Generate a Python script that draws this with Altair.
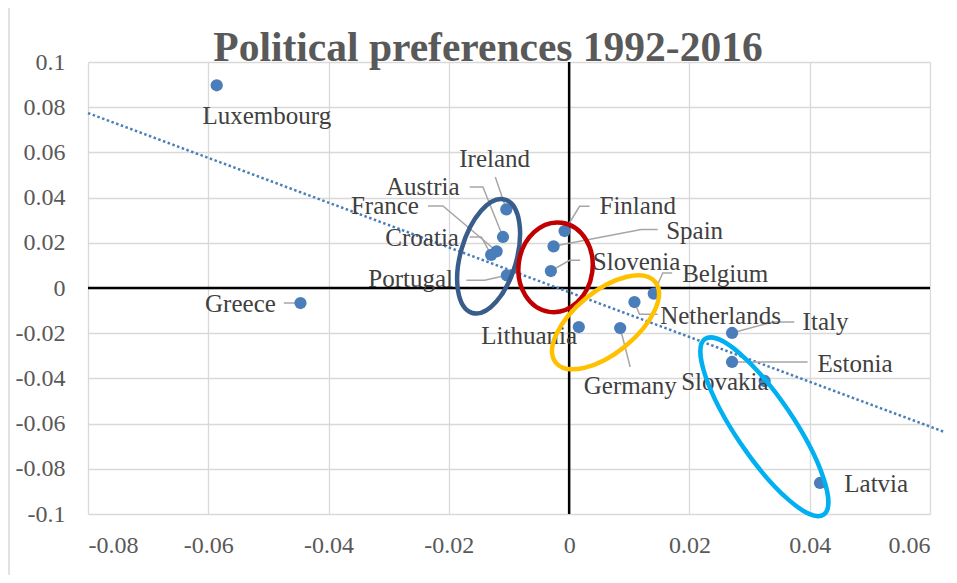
import altair as alt
import pandas as pd

# ---------------- data ----------------
countries = ["Luxembourg", "Greece", "Ireland", "Austria", "France", "Croatia",
             "Portugal", "Finland", "Spain", "Slovenia", "Belgium", "Netherlands",
             "Lithuania", "Germany", "Italy", "Estonia", "Slovakia", "Latvia"]
x_vals = [-0.0586, -0.04467, -0.01045, -0.0110, -0.01206, -0.01297,
          -0.01035, -0.00076, -0.00259, -0.00304, 0.01407, 0.01086,
          0.00161, 0.00849, 0.02709, 0.02709, 0.03251, 0.04171]
y_vals = [0.0897, -0.00664, 0.03482, 0.02257, 0.01624, 0.01469,
          0.00562, 0.02522, 0.01845, 0.00752, -0.00248, -0.0062,
          -0.01726, -0.0177, -0.01991, -0.03274, -0.04115, -0.08628]

# data-label anchors (baseline point) and alignment
label_x = [-0.05027, -0.04877, -0.01239, -0.01821, -0.02497, -0.01832,
           -0.01932, 0.00505, 0.01613, 0.00394, 0.01879, 0.01513,
           -0.0146, 0.00244, 0.03882, 0.04131, 0.01862, 0.04575]
label_y = [0.07243, -0.01062, 0.05354, 0.04102, 0.03261, 0.01845,
           0.00044, 0.03261, 0.02186, 0.00814, 0.00265, -0.01606,
           -0.02491, -0.04673, -0.01841, -0.03717, -0.04527, -0.09027]
label_align = ["center", "right", "center", "right", "right", "right",
               "right", "left", "left", "left", "left", "left",
               "left", "left", "left", "left", "left", "left"]

# leader-line elbow points (from the label side towards the marker)
leader_country = ["Greece", "Ireland", "Austria", "Austria", "France", "France",
                  "Croatia", "Croatia", "Portugal", "Portugal", "Finland", "Finland",
                  "Spain", "Spain", "Slovenia", "Slovenia", "Belgium", "Belgium",
                  "Netherlands", "Netherlands", "Germany", "Italy", "Italy", "Estonia"]
leader_x = [-0.04744, -0.01228, -0.01654, -0.01434, -0.02347, -0.02098,
            -0.01654, -0.0146, -0.01709, -0.01405, 0.00339, 0.00173,
            0.01473, 0.01198, 0.00184, 0.00007, 0.01713, 0.01556,
            0.01473, 0.01169, 0.01015, 0.03744, 0.03384, 0.03965]
leader_y = [-0.00664, 0.04912, 0.04469, 0.04469, 0.03628, 0.03628,
            0.02257, 0.02257, 0.00341, 0.00341, 0.03615, 0.03615,
            0.02584, 0.02584, 0.01226, 0.01226, 0.00664, 0.00664,
            -0.01164, -0.01164, -0.03496, -0.01504, -0.01504, -0.03274]

# linear trendline end points as drawn
trend_x = [-0.08, 0.0624]
trend_y = [0.0774, -0.0637]

# axis ticks
x_ticks = [-0.08, -0.06, -0.04, -0.02, 0, 0.02, 0.04, 0.06]
y_ticks = [-0.1, -0.08, -0.06, -0.04, -0.02, 0, 0.02, 0.04, 0.06, 0.08, 0.1]

# highlight ellipses: centre (data units), semi-axes (px), tilt (deg), colour
ell_x = [-0.01339, -0.00226, 0.00605, 0.03246]
ell_y = [0.01403, 0.00916, -0.01518, -0.06142]
ell_a = [59, 45, 64, 106]
ell_b = [28, 37, 31, 29]
ell_angle = [16, 8, 51, 326]
ell_color = ["#385D8A", "#C00000", "#FFC000", "#00B0F0"]

# ---------------- tables ----------------
pts = pd.DataFrame({"country": countries, "x": x_vals, "y": y_vals,
                    "lx": label_x, "ly": label_y, "align": label_align})

rows = []
order = {}
for c, lx, ly in zip(leader_country, leader_x, leader_y):
    order[c] = order.get(c, 0) + 1
    rows.append({"country": c, "x": lx, "y": ly, "o": order[c]})
for c in order:
    i = countries.index(c)
    rows.append({"country": c, "x": x_vals[i], "y": y_vals[i], "o": order[c] + 1})
leaders = pd.DataFrame(rows)

trend = pd.DataFrame({"x": trend_x, "y": trend_y})
zero_v = pd.DataFrame({"x": [0, 0], "y": [y_ticks[0], y_ticks[-1]]})
zero_h = pd.DataFrame({"x": [x_ticks[0], x_ticks[-1]], "y": [0, 0]})

xs = alt.Scale(domain=[x_ticks[0], x_ticks[-1]], nice=False, zero=False)
ys = alt.Scale(domain=[y_ticks[0], y_ticks[-1]], nice=False, zero=False)
lab_expr = "replace(datum.label, '\u2212', '-')"
X = alt.X("x:Q", scale=xs, axis=alt.Axis(values=x_ticks, format=".2~f", labelExpr=lab_expr,
                                          labelBaseline="alphabetic", labelPadding=38,
                                          title=None))
Y = alt.Y("y:Q", scale=ys, axis=alt.Axis(values=y_ticks, format=".2~f", labelExpr=lab_expr,
                                          labelPadding=23, title=None))

FONT = "Liberation Serif"

border = alt.Chart(pd.DataFrame({"v": [0]})).mark_rect(
    filled=False, stroke="#D9D9D9", strokeWidth=1.5
).encode(x=alt.value(-79), x2=alt.value(1000), y=alt.value(-55), y2=alt.value(700))

base = alt.Chart(pts).mark_circle(opacity=0).encode(x=X, y=Y)

rule_v = alt.Chart(zero_v).mark_line(color="black", strokeWidth=2.5).encode(x="x:Q", y="y:Q")
rule_h = alt.Chart(zero_h).mark_line(color="black", strokeWidth=2.5).encode(x="x:Q", y="y:Q")

trendline = alt.Chart(trend).mark_line(
    color="#4A7EBB", strokeWidth=2.5, strokeDash=[2.5, 2.5]
).encode(x="x:Q", y="y:Q")

leader_lines = alt.Chart(leaders).mark_line(color="#A6A6A6", strokeWidth=1.5).encode(
    x="x:Q", y="y:Q", detail="country:N", order="o:Q")

dots = alt.Chart(pts).mark_circle(size=150, color="#4A7EBB", opacity=1).encode(
    x="x:Q", y="y:Q", tooltip=["country:N", "x:Q", "y:Q"])

labels = []
for al in ["left", "right", "center"]:
    labels.append(
        alt.Chart(pts).transform_filter(alt.datum.align == al).mark_text(
            align=al, baseline="alphabetic", font=FONT, fontSize=25, color="#404040"
        ).encode(x="lx:Q", y="ly:Q", text="country:N")
    )

k = 0.5523
ellipses = []
for ex, ey, a, b, ang, col in zip(ell_x, ell_y, ell_a, ell_b, ell_angle, ell_color):
    r = b / a
    path = (f"M 0 -1 C {k*r:.4f} -1 {r:.4f} {-k:.4f} {r:.4f} 0 "
            f"C {r:.4f} {k:.4f} {k*r:.4f} 1 0 1 "
            f"C {-k*r:.4f} 1 {-r:.4f} {k:.4f} {-r:.4f} 0 "
            f"C {-r:.4f} {-k:.4f} {-k*r:.4f} -1 0 -1 Z")
    ellipses.append(
        alt.Chart(pd.DataFrame({"x": [ex], "y": [ey]})).mark_point(
            shape=path, size=(2 * a) ** 2, angle=ang, filled=False,
            stroke=col, strokeWidth=4.5, opacity=1
        ).encode(x="x:Q", y="y:Q")
    )

chart = alt.layer(
    border, base, rule_v, rule_h, trendline, leader_lines, dots, *labels, *ellipses
).properties(
    width=842, height=452,
    title=alt.TitleParams(
        "Political preferences 1992-2016", font=FONT, fontSize=41.5, fontWeight="bold",
        color="#595959", anchor="middle", frame="group", dx=-21, baseline="alphabetic",
        offset=0, dy=96
    ),
    autosize=alt.AutoSizeParams(type="none"),
    padding={"left": 80, "top": 54, "right": 19, "bottom": 61},
).configure_view(stroke=None).configure_axis(
    domain=False, ticks=False, grid=True, gridColor="#D9D9D9", gridWidth=1.3,
    labelFont=FONT, labelFontSize=24, labelColor="#595959"
)

chart.save("out.html", embed_options={"renderer": "svg", "actions": False})
